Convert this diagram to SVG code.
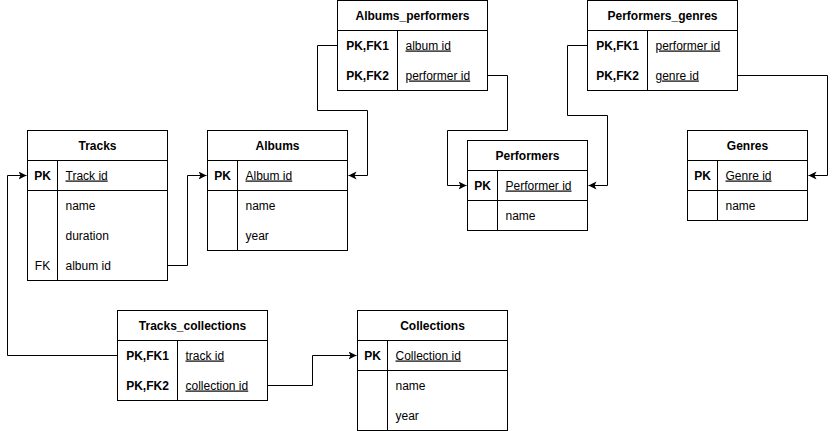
<svg xmlns="http://www.w3.org/2000/svg" width="836" height="431" viewBox="0 0 836 431">
<style>
.box{fill:#fff;stroke:#000;stroke-width:1}
.ln{stroke:#000;stroke-width:1;fill:none}
text{font-family:"Liberation Sans",Arial,Helvetica,sans-serif;font-size:12px;fill:#000}
.t{font-weight:bold;text-anchor:middle}
.k{font-weight:bold;text-anchor:middle}
.f{text-anchor:middle}
.u{text-decoration:underline}
.c{stroke:#000;stroke-width:1;fill:none;marker-end:url(#arr)}
</style>
<defs>
<marker id="arr" markerUnits="userSpaceOnUse" markerWidth="10" markerHeight="10" refX="8" refY="4" orient="auto">
<path d="M0,0 L8,4 L0,8 L2,4 Z" fill="#000"/>
</marker>
</defs>
<rect width="836" height="431" fill="#fff"/>
<g id="connectors">
<path class="c" d="M167.5,265.5 H187.5 V175.5 H206.5"/>
<path class="c" d="M117.5,355.5 H7.5 V175.5 H26.5"/>
<path class="c" d="M267.5,385.5 H312.5 V355.5 H356.5"/>
<path class="c" d="M337.5,45.5 H317.5 V110.5 H367.5 V175.5 H348.5"/>
<path class="c" d="M487.5,75.5 H507.5 V130.5 H447.5 V185.5 H466.5"/>
<path class="c" d="M587.5,45.5 H567.5 V115.5 H607.5 V185.5 H588.5"/>
<path class="c" d="M737.5,75.5 H827.5 V175.5 H808.5"/>
</g>
<g id="tracks">
<rect class="box" x="27.5" y="130.5" width="140" height="150"/>
<path class="ln" d="M27.5,160.5 H167.5 M27.5,190.5 H167.5 M57.5,160.5 V280.5"/>
<text class="t" x="97.5" y="149.5">Tracks</text>
<text class="k" x="42.5" y="179.5">PK</text>
<text class="u" x="65.5" y="179.5">Track id</text>
<text x="65.5" y="209.5">name</text>
<text x="65.5" y="239.5">duration</text>
<text class="f" x="42.5" y="269.5">FK</text>
<text x="65.5" y="269.5">album id</text>
</g>
<g id="albums">
<rect class="box" x="207.5" y="130.5" width="140" height="120"/>
<path class="ln" d="M207.5,160.5 H347.5 M207.5,190.5 H347.5 M237.5,160.5 V250.5"/>
<text class="t" x="277.5" y="149.5">Albums</text>
<text class="k" x="222.5" y="179.5">PK</text>
<text class="u" x="245.5" y="179.5">Album id</text>
<text x="245.5" y="209.5">name</text>
<text x="245.5" y="239.5">year</text>
</g>
<g id="albums_performers">
<rect class="box" x="337.5" y="0.5" width="150" height="90"/>
<path class="ln" d="M337.5,30.5 H487.5 M397.5,30.5 V90.5"/>
<text class="t" x="412.5" y="19.5">Albums_performers</text>
<text class="k" x="367.5" y="49.5">PK,FK1</text>
<text class="u" x="405.5" y="49.5">album id</text>
<text class="k" x="367.5" y="79.5">PK,FK2</text>
<text class="u" x="405.5" y="79.5">performer id</text>
</g>
<g id="performers">
<rect class="box" x="467.5" y="140.5" width="120" height="90"/>
<path class="ln" d="M467.5,170.5 H587.5 M467.5,200.5 H587.5 M497.5,170.5 V230.5"/>
<text class="t" x="527.5" y="159.5">Performers</text>
<text class="k" x="482.5" y="189.5">PK</text>
<text class="u" x="505.5" y="189.5">Performer id</text>
<text x="505.5" y="219.5">name</text>
</g>
<g id="performers_genres">
<rect class="box" x="587.5" y="0.5" width="150" height="90"/>
<path class="ln" d="M587.5,30.5 H737.5 M647.5,30.5 V90.5"/>
<text class="t" x="662.5" y="19.5">Performers_genres</text>
<text class="k" x="617.5" y="49.5">PK,FK1</text>
<text class="u" x="655.5" y="49.5">performer id</text>
<text class="k" x="617.5" y="79.5">PK,FK2</text>
<text class="u" x="655.5" y="79.5">genre id</text>
</g>
<g id="genres">
<rect class="box" x="687.5" y="130.5" width="120" height="90"/>
<path class="ln" d="M687.5,160.5 H807.5 M687.5,190.5 H807.5 M717.5,160.5 V220.5"/>
<text class="t" x="747.5" y="149.5">Genres</text>
<text class="k" x="702.5" y="179.5">PK</text>
<text class="u" x="725.5" y="179.5">Genre id</text>
<text x="725.5" y="209.5">name</text>
</g>
<g id="tracks_collections">
<rect class="box" x="117.5" y="310.5" width="150" height="90"/>
<path class="ln" d="M117.5,340.5 H267.5 M177.5,340.5 V400.5"/>
<text class="t" x="192.5" y="329.5">Tracks_collections</text>
<text class="k" x="147.5" y="359.5">PK,FK1</text>
<text class="u" x="185.5" y="359.5">track id</text>
<text class="k" x="147.5" y="389.5">PK,FK2</text>
<text class="u" x="185.5" y="389.5">collection id</text>
</g>
<g id="collections">
<rect class="box" x="357.5" y="310.5" width="150" height="120"/>
<path class="ln" d="M357.5,340.5 H507.5 M357.5,370.5 H507.5 M387.5,340.5 V430.5"/>
<text class="t" x="432.5" y="329.5">Collections</text>
<text class="k" x="372.5" y="359.5">PK</text>
<text class="u" x="395.5" y="359.5">Collection id</text>
<text x="395.5" y="389.5">name</text>
<text x="395.5" y="419.5">year</text>
</g>
</svg>
